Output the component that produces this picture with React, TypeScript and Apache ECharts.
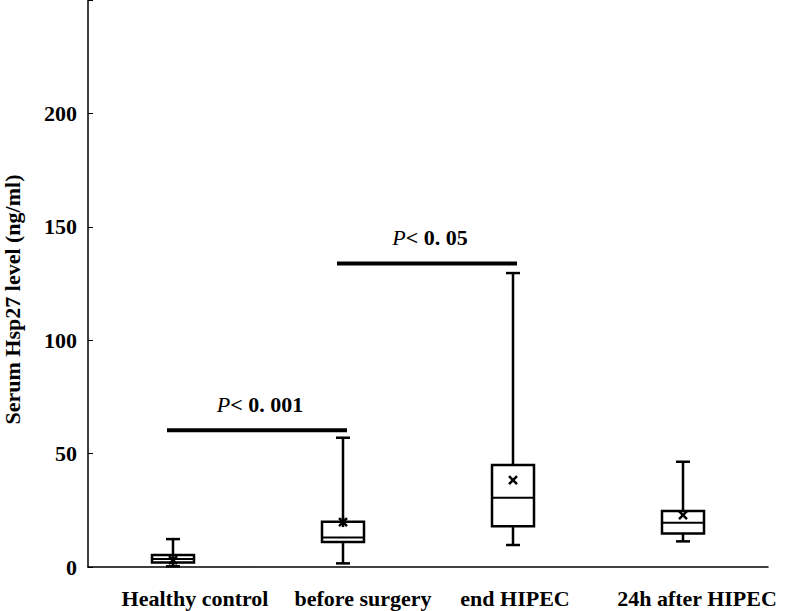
import React, { useEffect, useRef } from "react";
import * as echarts from "echarts";

const categories = ["Healthy control", "before surgery", "end HIPEC", "24h after HIPEC"];
const whiskerLow = [0.3, 1.6, 9.7, 11.3];
const q1 = [2, 11, 18, 14.8];
const median = [3.5, 13, 30.5, 19.5];
const q3 = [5.3, 20, 45, 24.7];
const whiskerHigh = [12.3, 57, 129.6, 46.4];
const means = [3, 19.8, 38.3, 22.9];
const meanMarker = ["star", "star", "x", "x"];

const sigFrom = [0, 1];
const sigTo = [1, 2];
const sigY = [60.3, 133.8];
const sigText = ["0. 001", "0. 05"];

const yTicks = [0, 50, 100, 150, 200];
const labelShift = [22, 20, 2, 14];

const FONT = "'Liberation Serif', 'Times New Roman', serif";
const FS = 22;

export default function App() {
  const ref = useRef<HTMLDivElement>(null);
  useEffect(() => {
    const chart = echarts.init(ref.current!, null, { renderer: "svg" });
    const boxData = categories.map((_, i) => [i, whiskerLow[i], q1[i], median[i], q3[i], whiskerHigh[i], means[i]]);
    const sigData = sigFrom.map((f, i) => [f, sigTo[i], sigY[i]]);
    const rich: any = {};
    labelShift.forEach((s, i) => {
      rich["c" + i] = {
        fontFamily: FONT,
        fontSize: FS,
        fontWeight: "bold",
        color: "#000",
        padding: [0, 0, 0, s * 2],
      };
    });
    chart.setOption({
      animation: false,
      backgroundColor: "#fff",
      grid: { left: 88, right: 25, top: 0, bottom: 44, outerBoundsMode: "none" },
      xAxis: {
        type: "category",
        data: categories,
        axisLine: { lineStyle: { color: "#000", width: 1.5 } },
        axisTick: { show: false },
        splitLine: { show: false },
        axisLabel: {
          margin: 20,
          interval: 0,
          formatter: (v: string) => `{c${categories.indexOf(v)}|${v}}`,
          rich,
        },
      },
      yAxis: {
        type: "value",
        min: 0,
        max: 250,
        interval: 50,
        name: "Serum Hsp27 level (ng/ml)",
        nameLocation: "middle",
        nameGap: 65,
        nameRotate: 90,
        nameTextStyle: { fontFamily: FONT, fontSize: FS, fontWeight: "bold", color: "#000", padding: [0, 32, 0, 0] },
        axisLine: { show: true, lineStyle: { color: "#000", width: 1.5 } },
        axisTick: { show: true, inside: true, length: 5, lineStyle: { color: "#000", width: 1 } },
        splitLine: { show: false },
        axisLabel: {
          margin: 11,
          fontFamily: FONT,
          fontSize: FS,
          fontWeight: "bold",
          color: "#000",
          formatter: (v: number) => (yTicks.includes(v) ? String(v) : ""),
        },
      },
      series: [
        {
          type: "custom",
          data: boxData,
          encode: { x: 0, y: [1, 2, 3, 4, 5] },
          renderItem: (params: any, api: any) => {
            const i = api.value(0);
            const pLo = api.coord([i, api.value(1)]);
            const pQ1 = api.coord([i, api.value(2)]);
            const pMed = api.coord([i, api.value(3)]);
            const pQ3 = api.coord([i, api.value(4)]);
            const pHi = api.coord([i, api.value(5)]);
            const pMean = api.coord([i, api.value(6)]);
            const x = pMed[0];
            const hw = 21;
            const cw = 7;
            const st = { stroke: "#000", lineWidth: 2.5, fill: null };
            const m = 4;
            const children: any[] = [
              { type: "line", shape: { x1: x, y1: pQ3[1], x2: x, y2: pHi[1] }, style: st },
              { type: "line", shape: { x1: x, y1: pQ1[1], x2: x, y2: pLo[1] }, style: st },
              { type: "line", shape: { x1: x - cw, y1: pHi[1], x2: x + cw, y2: pHi[1] }, style: st },
              { type: "line", shape: { x1: x - cw, y1: pLo[1], x2: x + cw, y2: pLo[1] }, style: st },
              {
                type: "rect",
                shape: { x: x - hw, y: pQ3[1], width: hw * 2, height: pQ1[1] - pQ3[1] },
                style: { stroke: "#000", lineWidth: 2.5, fill: "#fff" },
              },
              { type: "line", shape: { x1: x - hw, y1: pMed[1], x2: x + hw, y2: pMed[1] }, style: { stroke: "#000", lineWidth: 2 } },
              { type: "line", shape: { x1: x - m, y1: pMean[1] - m, x2: x + m, y2: pMean[1] + m }, style: { stroke: "#000", lineWidth: 2.5 } },
              { type: "line", shape: { x1: x - m, y1: pMean[1] + m, x2: x + m, y2: pMean[1] - m }, style: { stroke: "#000", lineWidth: 2.5 } },
            ];
            if (meanMarker[params.dataIndex] === "star") {
              children.push({
                type: "line",
                shape: { x1: x, y1: pMean[1] - m - 1, x2: x, y2: pMean[1] + m + 1 },
                style: { stroke: "#000", lineWidth: 2.5 },
              });
            }
            return { type: "group", children };
          },
          z: 3,
        },
        {
          type: "custom",
          data: sigData,
          encode: { x: [0, 1], y: 2 },
          renderItem: (params: any, api: any) => {
            const p1 = api.coord([api.value(0), api.value(2)]);
            const p2 = api.coord([api.value(1), api.value(2)]);
            const x1 = p1[0] - 6;
            const x2 = p2[0] + 4;
            return {
              type: "group",
              children: [
                { type: "line", shape: { x1, y1: p1[1], x2, y2: p1[1] }, style: { stroke: "#000", lineWidth: 4 } },
                {
                  type: "text",
                  x: (x1 + x2) / 2 + 3,
                  y: p1[1] - 26,
                  style: {
                    text: `{i|P}{n|< ${sigText[params.dataIndex]}}`,
                    align: "center",
                    verticalAlign: "middle",
                    rich: {
                      i: { fontFamily: FONT, fontSize: FS, fontStyle: "italic", fill: "#000" },
                      n: { fontFamily: FONT, fontSize: FS, fontWeight: "bold", fill: "#000" },
                    },
                  },
                },
              ],
            };
          },
          z: 4,
        },
      ],
    });
    return () => chart.dispose();
  }, []);
  return <div ref={ref} style={{ position: "fixed", left: 0, top: 0, width: 793, height: 611 }} />;
}
